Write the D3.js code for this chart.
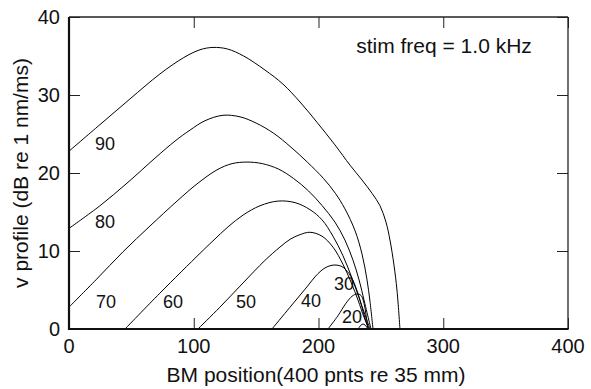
<!DOCTYPE html>
<html>
<head>
<meta charset="utf-8">
<script src="https://cdn.jsdelivr.net/npm/d3@7"></script>
<style>
  html, body { margin: 0; padding: 0; background: #fff; }
  text { font-family: "Liberation Sans", Arial, Helvetica, sans-serif; fill: #111; }
</style>
</head>
<body>
<svg id="chart" width="591" height="389"></svg>
<script>
// ---- data ----
const levels = ["90", "80", "70", "60", "50", "40", "30", "20"];
const curve90 = [[0,22.8],[24.8,26.2],[48.9,29.5],[72.9,32.7],[92.0,34.8],[105.0,35.8],[115.4,36.1],[127,35.9],[140,35.0],[157.1,33.2],[171.5,31.4],[185.2,29.1],[198.8,26.5],[213.2,23.6],[225.3,21.0],[234.9,19.1],[242.9,17.4],[249.3,15.8],[254.1,13.7],[257.3,11.4],[260.5,8.2],[262.9,5.0],[265.3,0]];
const curve80 = [[0,12.9],[24.8,15.8],[46.5,18.7],[68.9,21.9],[85.0,24.1],[97.0,25.5],[109.0,26.7],[123.4,27.4],[137.1,27.2],[150,26.4],[164,25.1],[178,23.3],[191,21.4],[204,19.3],[213.5,17.4],[221.2,15.4],[229.3,12.6],[234.9,9.6],[238.9,6.3],[241.3,3.5],[243.7,0]];
const curve70 = [[0,2.8],[21.6,6.3],[43.3,9.9],[64.9,13.2],[86.6,16.4],[102.6,18.6],[118.6,20.4],[130.7,21.2],[142.7,21.4],[155,21.2],[168,20.5],[180,19.3],[192,17.7],[203,15.8],[213.2,13.7],[221.2,11.4],[227.7,8.8],[232.5,6.3],[236.5,3.7],[238.9,2.1],[242.1,0]];
const curve60 = [[44.9,0],[72.9,4.6],[105.0,9.7],[115.4,11.3],[127.5,13.1],[139.5,14.6],[153.1,15.8],[167.5,16.4],[181.2,16.2],[193.2,15.3],[202.8,14.0],[211.6,11.9],[219.6,9.4],[226.9,6.5],[232.5,4.0],[237.3,1.8],[241.3,0]];
const curve50 = [[103.4,0],[121.0,2.8],[139.5,5.9],[157.1,8.8],[169.1,10.5],[177.2,11.5],[185.2,12.1],[193.2,12.4],[202.8,11.9],[211.6,10.5],[219.6,8.3],[226.1,6.0],[231.7,3.7],[236.5,1.5],[240.5,0]];
const curve40 = [[162.7,0],[177.2,2.8],[189.2,5.1],[199.6,7.1],[206.0,7.9],[212.4,8.2],[218.8,8.0],[224.5,7.1],[229.3,5.6],[233.3,3.7],[236.5,1.8],[240.1,0]];
const curve30 = [[207.6,0],[215.6,1.7],[222.0,3.3],[226.9,4.2],[230.9,4.5],[234.1,4.3],[236.5,3.3],[238.1,1.8],[239.7,0]];
const curve20 = [[231.7,0],[234.1,0.5],[235.7,0.64],[237.3,0.5],[239.7,0]];
const allCurves = [curve90, curve80, curve70, curve60, curve50, curve40, curve30, curve20];
const xTicks = [0, 100, 200, 300, 400];
const yTicks = [0, 10, 20, 30, 40];
const xTitle = "BM position(400 pnts re 35 mm)";
const yTitle = "v profile (dB re 1 nm/ms)";
const annotation = "stim freq = 1.0 kHz";

// ---- layout ----
const W = 591, H = 389;
const plot = { left: 69, right: 568, top: 17, bottom: 329 };
const labelAnchors = [[28.9,22.9],[28.9,13.0],[29.7,2.7],[83.4,2.7],[141.9,2.7],[194,2.8],[220.4,5.0],[226.8,0.77]];

const svg = d3.select("#chart");
svg.append("rect").attr("width", W).attr("height", H).attr("fill", "#fff");

const x = d3.scaleLinear().domain([0, 400]).range([plot.left, plot.right]);
const y = d3.scaleLinear().domain([0, 40]).range([plot.bottom, plot.top]);

svg.append("clipPath").attr("id", "clip").append("rect")
  .attr("x", plot.left).attr("y", plot.top)
  .attr("width", plot.right - plot.left).attr("height", plot.bottom - plot.top);

const line = d3.line().x(d => x(d[0])).y(d => y(d[1])).curve(d3.curveCatmullRom.alpha(0.5));

const g = svg.append("g").attr("clip-path", "url(#clip)");
g.selectAll("path.curve").data(allCurves).join("path")
  .attr("class", "curve")
  .attr("d", line)
  .attr("fill", "none")
  .attr("stroke", "#000")
  .attr("stroke-width", 1);

// axes (ticks inward)
const tickLen = 11;
const xAxisB = d3.axisBottom(x).tickValues(xTicks).tickSize(-tickLen).tickFormat(() => "");
const xAxisT = d3.axisTop(x).tickValues(xTicks).tickSize(-tickLen).tickFormat(() => "");
const yAxisL = d3.axisLeft(y).tickValues(yTicks).tickSize(-tickLen).tickFormat(() => "");
const yAxisR = d3.axisRight(y).tickValues(yTicks).tickSize(-tickLen).tickFormat(() => "");

function styleAxis(sel) {
  sel.select(".domain").remove();
  sel.selectAll(".tick line").attr("stroke", "#222").attr("stroke-width", 1);
}
svg.append("g").attr("transform", `translate(0,${plot.bottom})`).call(xAxisB).call(styleAxis);
svg.append("g").attr("transform", `translate(0,${plot.top})`).call(xAxisT).call(styleAxis);
svg.append("g").attr("transform", `translate(${plot.left},0)`).call(yAxisL).call(styleAxis);
svg.append("g").attr("transform", `translate(${plot.right},0)`).call(yAxisR).call(styleAxis);

// frame
svg.append("line").attr("x1", plot.left).attr("x2", plot.right).attr("y1", plot.top).attr("y2", plot.top).attr("stroke", "#222").attr("stroke-width", 1.3);
svg.append("line").attr("x1", plot.right).attr("x2", plot.right).attr("y1", plot.top).attr("y2", plot.bottom).attr("stroke", "#222").attr("stroke-width", 1.3);
svg.append("line").attr("x1", plot.left).attr("x2", plot.right + 0.6).attr("y1", plot.bottom).attr("y2", plot.bottom).attr("stroke", "#111").attr("stroke-width", 2.2);
svg.append("line").attr("x1", plot.left).attr("x2", plot.left).attr("y1", plot.top).attr("y2", plot.bottom + 1).attr("stroke", "#111").attr("stroke-width", 2.2);

// tick labels
svg.selectAll("text.xt").data(xTicks).join("text").attr("class", "xt")
  .attr("x", d => x(d)).attr("y", plot.bottom + 24)
  .attr("text-anchor", "middle").attr("font-size", 20).text(d => d);
svg.selectAll("text.yt").data(yTicks).join("text").attr("class", "yt")
  .attr("x", plot.left - 9).attr("y", d => y(d) + 7)
  .attr("text-anchor", "end").attr("font-size", 20).text(d => d);

// titles
svg.append("text").attr("x", 316).attr("y", 382).attr("text-anchor", "middle")
  .attr("font-size", 21).text(xTitle);
svg.append("text").attr("transform", "translate(28,173) rotate(-90)").attr("text-anchor", "middle")
  .attr("font-size", 21).text(yTitle);

// annotation
svg.append("text").attr("x", 444).attr("y", 53).attr("text-anchor", "middle")
  .attr("font-size", 21).text(annotation);

// curve labels
svg.selectAll("text.lvl").data(levels).join("text").attr("class", "lvl")
  .attr("x", (d, i) => x(labelAnchors[i][0])).attr("y", (d, i) => y(labelAnchors[i][1]))
  .attr("text-anchor", "middle").attr("font-size", 18).text(d => d);
</script>
</body>
</html>
